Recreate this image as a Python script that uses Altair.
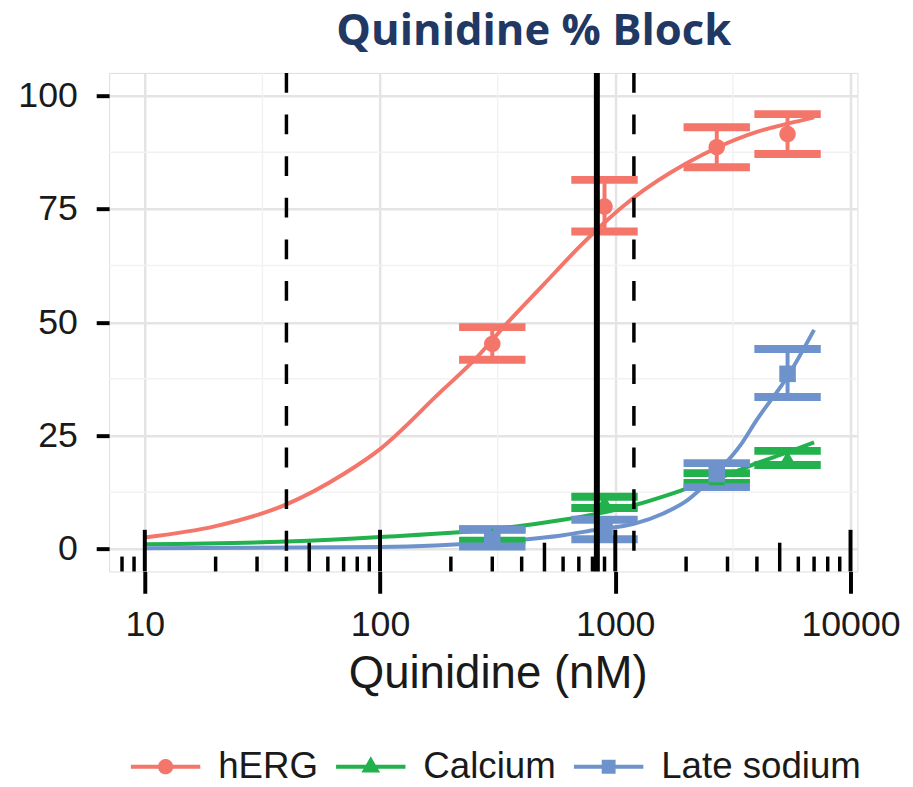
import altair as alt
import pandas as pd

# ---------------- data ----------------
channels = ["hERG", "Calcium", "Late sodium"]
colors = ["#F4766B", "#22B14C", "#6E93CC"]
shapes = ["circle", "triangle-up", "square"]

conc = [300, 900, 2700, 5400]
herg_mean = [45.2, 75.5, 88.6, 91.5]
herg_lo = [41.7, 70.0, 84.2, 87.1]
herg_hi = [48.9, 81.4, 93.0, 95.9]
ca_mean = [3.0, 10.3, 15.6, 20.0]
ca_lo = [1.8, 9.0, 14.5, 18.5]
ca_hi = [4.3, 11.5, 16.7, 21.6]
na_mean = [2.2, 4.2, 16.5, 38.6]
na_lo = [0.5, 2.1, 13.6, 33.5]
na_hi = [4.2, 6.4, 18.9, 44.1]

herg_curve_x = [10, 20, 40, 70, 100, 180, 250, 350, 500, 700, 900, 1200, 2000, 2700, 4000, 5400, 7000]
herg_curve_y = [2.5, 5.0, 9.8, 16.5, 22.0, 34.5, 41.5, 50.0, 58.5, 66.5, 72.0, 77.5, 85.0, 88.5, 92.0, 93.8, 95.2]
ca_curve_x = [10, 40, 100, 300, 600, 830, 1200, 2000, 2700, 4000, 5400, 7000]
ca_curve_y = [1.0, 1.6, 2.6, 4.3, 6.4, 7.7, 9.6, 13.2, 15.4, 18.9, 21.3, 23.5]
na_curve_x = [10, 100, 300, 600, 830, 1200, 1600, 2000, 2700, 3400, 4000, 5400, 7000]
na_curve_y = [0.1, 0.4, 1.5, 3.0, 4.2, 5.5, 7.8, 10.5, 16.8, 22.8, 28.5, 38.0, 48.3]

cmax_line = [835]
margin_lines = [40, 1200]

x_ticks = [10, 100, 1000, 10000]
y_ticks = [0, 25, 50, 75, 100]
x_minor_grid = [31.62, 316.2, 3162]
y_minor_grid = [12.5, 37.5, 62.5, 87.5]
logtick_major = [10, 100, 1000, 10000]
logtick_mid = [50, 500, 5000]
logtick_minor = [8, 9, 20, 30, 40, 60, 70, 80, 90, 200, 300, 400, 600, 700, 800, 900,
                 2000, 3000, 4000, 6000, 7000, 8000, 9000]

# ---------------- tables ----------------
pts = pd.DataFrame({
    "conc": conc * 3,
    "pct": herg_mean + ca_mean + na_mean,
    "lo": herg_lo + ca_lo + na_lo,
    "hi": herg_hi + ca_hi + na_hi,
    "channel": ["hERG"] * 4 + ["Calcium"] * 4 + ["Late sodium"] * 4,
})
curves = pd.DataFrame({
    "conc": herg_curve_x + ca_curve_x + na_curve_x,
    "pct": herg_curve_y + ca_curve_y + na_curve_y,
    "channel": ["hERG"] * len(herg_curve_x) + ["Calcium"] * len(ca_curve_x) + ["Late sodium"] * len(na_curve_x),
})

W, H = 755, 503
xs = alt.Scale(type="log", domain=[7.05, 10700], nice=False)
ys = alt.Scale(domain=[-5, 105], nice=False, zero=False)
TXT = "#1a1a1a"
FONT = "Liberation Sans"

xaxis = alt.Axis(values=x_ticks, labelExpr="format(datum.value, 'd')", title="Quinidine (nM)",
                 tickSize=22, tickWidth=4, tickColor="black", domain=False,
                 grid=True, gridColor="#E4E4E4", gridWidth=2.5,
                 labelFontSize=36, labelFont=FONT, labelColor=TXT, labelPadding=15,
                 titleFontSize=46, titleFont=FONT, titleFontWeight="normal", titleColor=TXT,
                 titlePadding=9, titleX=392)
yaxis = alt.Axis(values=y_ticks, title="", tickSize=13, tickWidth=4, tickColor="black", domain=False,
                 grid=True, gridColor="#E4E4E4", gridWidth=2.5,
                 labelFontSize=36, labelFont=FONT, labelColor=TXT, labelPadding=19)


def X(field):
    return alt.X(f"{field}:Q", scale=xs, axis=xaxis, title="Quinidine (nM)")


def Y(field):
    return alt.Y(f"{field}:Q", scale=ys, axis=yaxis, title="")


cscale = alt.Scale(domain=channels, range=colors)

# legend glyphs: a filled bar (the line) plus the marker, all wound clockwise
bar_p = "M-1,-0.057L1,-0.057L1,0.057L-1,0.057Z"
sym_herg = bar_p + "M0.22,0A0.22,0.22,0,1,1,-0.22,0A0.22,0.22,0,1,1,0.22,0Z"
sym_ca = bar_p + "M0,-0.3L0.27,0.17L-0.27,0.17Z"
sym_na = bar_p + "M-0.2,-0.2L0.2,-0.2L0.2,0.2L-0.2,0.2Z"
legend_shapes = [sym_herg, sym_ca, sym_na]

legend = alt.Legend(orient="none", legendX=22, legendY=665, direction="horizontal", title=None,
                    symbolSize=4900, symbolStrokeWidth=0, symbolOpacity=1,
                    labelFontSize=37, labelFont=FONT, labelColor=TXT, labelOffset=18,
                    labelLimit=400, columnPadding=18)


def C():
    return alt.Color("channel:N", scale=cscale, legend=legend)


# ---------------- layers ----------------
gx = alt.Chart(pd.DataFrame({"conc": x_minor_grid})).mark_rule(color="#F2F2F2", strokeWidth=1.5).encode(x=X("conc"))
gy = alt.Chart(pd.DataFrame({"pct": y_minor_grid})).mark_rule(color="#F2F2F2", strokeWidth=1.5).encode(y=Y("pct"))

lines = alt.Chart(curves).mark_line(strokeWidth=4, interpolate="monotone").encode(
    x=X("conc"), y=Y("pct"), color=C(),
)

base_pts = alt.Chart(pts)
stems = base_pts.mark_rule(strokeWidth=4).encode(
    x=X("conc"), y=Y("lo"), y2="hi", color=C(),
)
caps_lo = base_pts.transform_calculate(
    c1="datum.conc / 1.384", c2="datum.conc * 1.384"
).mark_rule(strokeWidth=8).encode(
    x=X("c1"), x2="c2", y=Y("lo"), color=C(),
)
caps_hi = base_pts.transform_calculate(
    c1="datum.conc / 1.384", c2="datum.conc * 1.384"
).mark_rule(strokeWidth=8).encode(
    x=X("c1"), x2="c2", y=Y("hi"), color=C(),
)

point_layers = []
for ch, shp in zip(channels, shapes):
    point_layers.append(
        base_pts.transform_filter(alt.datum.channel == ch).mark_point(
            filled=True, size=280, opacity=1, shape=shp).encode(
            x=X("conc"), y=Y("pct"), color=C(),
        )
    )

# legend-only layer (draws no marks; entries come from the explicit scale domain)
legend_layer = base_pts.transform_filter("false").mark_point(filled=True, opacity=1).encode(
    x=X("conc"), y=Y("pct"), color=C(),
    shape=alt.Shape("channel:N", scale=alt.Scale(domain=channels, range=legend_shapes), legend=legend),
)

vsolid = alt.Chart(pd.DataFrame({"conc": cmax_line})).mark_rule(color="black", strokeWidth=6).encode(x=X("conc"))
vdash = alt.Chart(pd.DataFrame({"conc": margin_lines})).mark_rule(
    color="black", strokeWidth=3.5, strokeDash=[20, 22]).encode(x=X("conc"))

lt_major = alt.Chart(pd.DataFrame({"conc": logtick_major})).mark_rule(color="black", strokeWidth=4).encode(
    x=X("conc"), y=alt.value(H - 42), y2=alt.value(H))
lt_mid = alt.Chart(pd.DataFrame({"conc": logtick_mid})).mark_rule(color="black", strokeWidth=3.5).encode(
    x=X("conc"), y=alt.value(H - 29), y2=alt.value(H))
lt_minor = alt.Chart(pd.DataFrame({"conc": logtick_minor})).mark_rule(color="black", strokeWidth=3.5).encode(
    x=X("conc"), y=alt.value(H - 15), y2=alt.value(H))

chart = alt.layer(
    gx, gy, lines, stems, caps_lo, caps_hi, *point_layers, legend_layer,
    vsolid, vdash, lt_major, lt_mid, lt_minor
).properties(
    width=W, height=H,
    title=alt.TitleParams("Quinidine % Block", font="Open Sans", fontSize=44, fontWeight="bold",
                          color="#1F3864", anchor="middle", dx=51, offset=16, frame="group"),
    autosize=alt.AutoSizeParams(type="none"),
    padding={"left": 102, "top": 62, "right": 48, "bottom": 214},
).configure_view(
    stroke="black", strokeWidth=3.5
).configure(background="white")

chart.save("out.html", embed_options={"renderer": "svg", "actions": False})
